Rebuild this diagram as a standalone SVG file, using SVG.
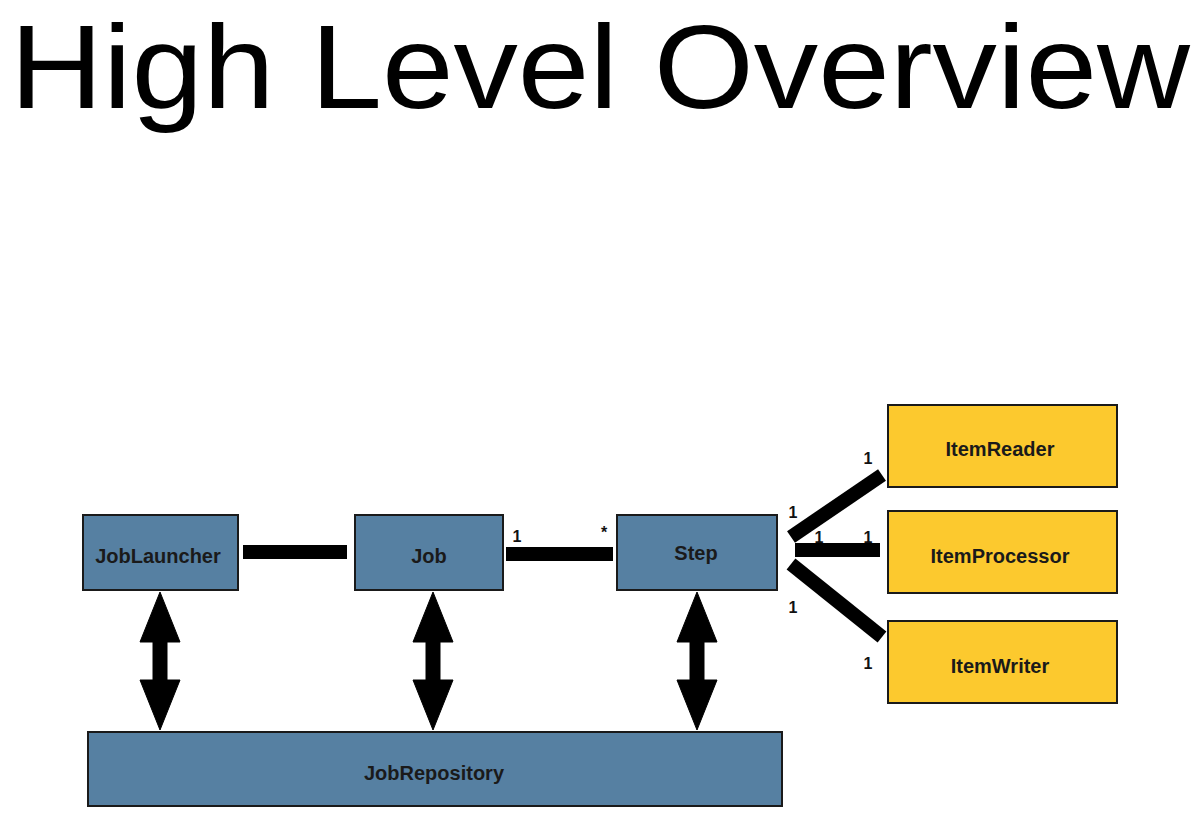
<svg xmlns="http://www.w3.org/2000/svg" width="1200" height="824" viewBox="0 0 1200 824">
<style>
.blue{fill:#5680a2;stroke:#1a1a1a;stroke-width:2}
.yel{fill:#fcc92e;stroke:#1a1a1a;stroke-width:2}
.lbl{font-family:"Liberation Sans",Arial,sans-serif;font-weight:bold;font-size:20px;fill:#1a1a1a;text-anchor:middle}
.mult{font-family:"Liberation Sans",Arial,sans-serif;font-weight:bold;font-size:16px;fill:#111;text-anchor:middle}
.bar{stroke:#000;stroke-width:14;fill:none}
</style>
<defs>
<path id="dbl" d="M0,-69 L20,-19 L7,-19 L7,19 L20,19 L0,69 L-20,19 L-7,19 L-7,-19 L-20,-19 Z" fill="#000" stroke="#000" stroke-width="1"/>
</defs>
<rect width="1200" height="824" fill="#fff"/>
<text x="10" y="108" font-family="'Gill Sans','Liberation Sans',sans-serif" font-size="118" textLength="1180" lengthAdjust="spacingAndGlyphs" fill="#000">High Level Overview</text>
<g id="connectors">
<line class="bar" x1="243" y1="552" x2="347" y2="552"/>
<line class="bar" x1="506" y1="554" x2="613" y2="554"/>
<line class="bar" x1="791" y1="537" x2="882" y2="475"/>
<line class="bar" x1="795" y1="550" x2="880" y2="550"/>
<line class="bar" x1="791" y1="564" x2="882" y2="637"/>
<use href="#dbl" x="160" y="661"/>
<use href="#dbl" x="433" y="661"/>
<use href="#dbl" x="697" y="661"/>
<text class="mult" x="517" y="542">1</text>
<text class="mult" x="604" y="538">*</text>
<text class="mult" x="868" y="464">1</text>
<text class="mult" x="793" y="518">1</text>
<text class="mult" x="819" y="543">1</text>
<text class="mult" x="868" y="543">1</text>
<text class="mult" x="793" y="613">1</text>
<text class="mult" x="868" y="669">1</text>
</g>
<g id="jobLauncher"><rect class="blue" x="83" y="515" width="155" height="75"/><text class="lbl" x="158" y="563">JobLauncher</text></g>
<g id="job"><rect class="blue" x="355" y="515" width="148" height="75"/><text class="lbl" x="429" y="563">Job</text></g>
<g id="step"><rect class="blue" x="617" y="515" width="160" height="75"/><text class="lbl" x="696" y="560">Step</text></g>
<g id="jobRepository"><rect class="blue" x="88" y="732" width="694" height="74"/><text class="lbl" x="434" y="780">JobRepository</text></g>
<g id="itemReader"><rect class="yel" x="888" y="405" width="229" height="82"/><text class="lbl" x="1000" y="456">ItemReader</text></g>
<g id="itemProcessor"><rect class="yel" x="888" y="511" width="229" height="82"/><text class="lbl" x="1000" y="563">ItemProcessor</text></g>
<g id="itemWriter"><rect class="yel" x="888" y="621" width="229" height="82"/><text class="lbl" x="1000" y="673">ItemWriter</text></g>
</svg>
